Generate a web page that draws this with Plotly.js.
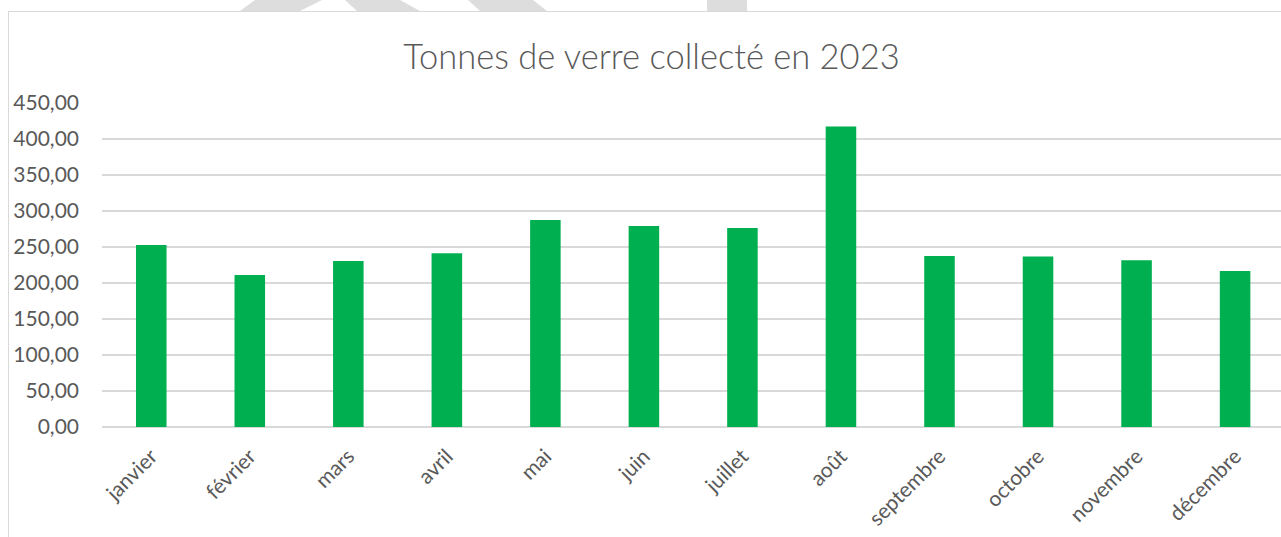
<!DOCTYPE html>
<html>
<head>
<meta charset="utf-8">
<script src="https://cdn.plot.ly/plotly-3.0.1.min.js"></script>
<style>
  html, body { margin: 0; padding: 0; background: #ffffff; overflow: hidden; }
  #wrap { position: relative; width: 1281px; height: 537px; overflow: hidden; }
  #frame { position: absolute; left: 8px; top: 11px; width: 1300px; height: 600px; border: 1px solid #d9d9d9; box-sizing: border-box; pointer-events: none; z-index: 2; }
  #wm { position: absolute; left: 0; top: 0; z-index: 1; }
  #chart { position: absolute; left: 0; top: 0; width: 1281px; height: 537px; }
</style>
</head>
<body>
<div id="wrap">
  <div id="chart"></div>
  <svg id="wm" width="1281" height="12">
    <polygon points="240,11 300,11 322,0 255,0" fill="#dddddd"/>
    <polygon points="357,11 420,11 400,0 345,0" fill="#dddddd"/>
    <polygon points="480,11 547,11 533,0 468,0" fill="#dddddd"/>
    <polygon points="707,11 747,11 747,0 707,0" fill="#dddddd"/>
  </svg>
  <div id="frame"></div>
</div>
<script>
const months = ["janvier", "février", "mars", "avril", "mai", "juin", "juillet", "août", "septembre", "octobre", "novembre", "décembre"];
const tonnes = [252.8, 211.1, 230.6, 241.2, 287.6, 279.3, 276.5, 417.5, 237.5, 236.9, 231.5, 216.6];
const yTicks = [0, 50, 100, 150, 200, 250, 300, 350, 400, 450];
const chartTitle = "Tonnes de verre collecté en 2023";

const labelColor = "#595959";
const fontFam = "Lato, 'Open Sans', sans-serif";

const trace = {
  type: "bar",
  x: months,
  y: tonnes,
  marker: { color: "#00B050", line: { width: 0 } },
  hoverinfo: "x+y"
};

const layout = {
  width: 1281,
  height: 537,
  margin: { l: 102, r: 0, t: 103, b: 110, pad: 0 },
  paper_bgcolor: "rgba(0,0,0,0)",
  plot_bgcolor: "#ffffff",
  separators: ", ",
  showlegend: false,
  bargap: 0.69,
  title: {
    text: chartTitle,
    font: { family: fontFam, size: 34.5, color: labelColor, weight: 300 },
    xref: "container",
    x: 651.5 / 1281,
    xanchor: "center",
    yref: "container",
    y: 1 - 57 / 537,
    yanchor: "middle"
  },
  xaxis: {
    type: "category",
    range: [-0.5, 11.466],
    tickangle: -45,
    ticks: "",
    showgrid: false,
    showline: false,
    zeroline: false,
    tickfont: { family: fontFam, size: 21, color: labelColor },
    ticklabelstandoff: 12,
    fixedrange: true
  },
  yaxis: {
    range: [0, 450],
    tickvals: yTicks,
    tickformat: ".2f",
    ticks: "",
    showgrid: true,
    gridcolor: "#d9d9d9",
    gridwidth: 1.3,
    zeroline: true,
    zerolinecolor: "#d9d9d9",
    zerolinewidth: 1.3,
    showline: false,
    tickfont: { family: fontFam, size: 21, color: labelColor },
    ticklabelstandoff: 22,
    fixedrange: true
  }
};

Plotly.newPlot("chart", [trace], layout, { displayModeBar: false, staticPlot: true });
</script>
</body>
</html>
